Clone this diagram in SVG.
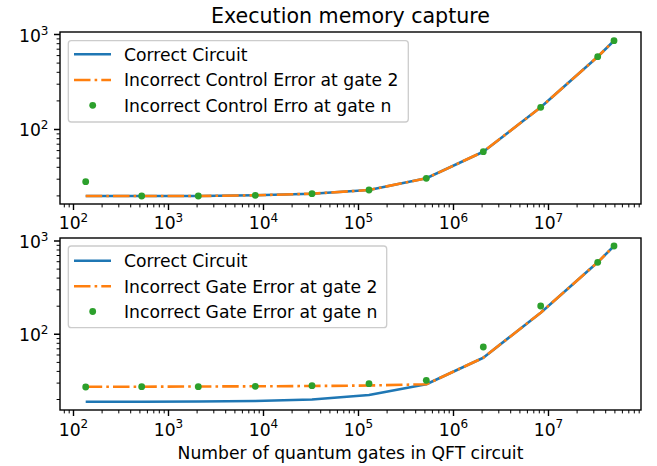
<svg xmlns="http://www.w3.org/2000/svg" width="657" height="466" viewBox="0 0 657 466">
<style>
text{font-family:"DejaVu Sans","Liberation Sans",sans-serif;fill:#000}
.tl{font-size:17.2px}
.sup{font-size:12px}
.lg{font-size:17.2px}
.spine{fill:none;stroke:#000;stroke-width:1.4}
.maj{stroke:#000;stroke-width:1.4}
.min{stroke:#000;stroke-width:1}
.blue{fill:none;stroke:#1f77b4;stroke-width:2.6;stroke-linejoin:round}
.orange{fill:none;stroke:#ff7f0e;stroke-width:2.6;stroke-dasharray:16.5 4.1 2.6 4.1;stroke-linejoin:round}
.dot{fill:#2ca02c}
.leg{fill:#fff;fill-opacity:0.8;stroke:#cccccc;stroke-width:1.3}
</style>
<defs>
<g id="xmin">
<path class="min" d="M64.3 0v3.4M69.2 0v3.4M102.1 0v3.4M118.8 0v3.4M130.7 0v3.4M139.9 0v3.4M147.4 0v3.4M153.8 0v3.4M159.3 0v3.4M164.2 0v3.4M197.1 0v3.4M213.8 0v3.4M225.7 0v3.4M234.9 0v3.4M242.4 0v3.4M248.8 0v3.4M254.3 0v3.4M259.2 0v3.4M292.1 0v3.4M308.8 0v3.4M320.7 0v3.4M329.9 0v3.4M337.4 0v3.4M343.8 0v3.4M349.3 0v3.4M354.2 0v3.4M387.1 0v3.4M403.8 0v3.4M415.7 0v3.4M424.9 0v3.4M432.4 0v3.4M438.8 0v3.4M444.3 0v3.4M449.2 0v3.4M482.1 0v3.4M498.8 0v3.4M510.7 0v3.4M519.9 0v3.4M527.4 0v3.4M533.8 0v3.4M539.3 0v3.4M544.2 0v3.4M577.1 0v3.4M593.8 0v3.4M605.7 0v3.4M614.9 0v3.4M622.4 0v3.4M628.8 0v3.4M634.3 0v3.4M639.2 0v3.4"/>
<path class="maj" d="M73.5 0v6M168.5 0v6M263.5 0v6M358.5 0v6M453.5 0v6M548.5 0v6"/>
</g>
<g id="xlab">
<text class="tl" x="73.5" y="0" text-anchor="middle">10<tspan class="sup" dy="-7.3">2</tspan></text>
<text class="tl" x="168.5" y="0" text-anchor="middle">10<tspan class="sup" dy="-7.3">3</tspan></text>
<text class="tl" x="263.5" y="0" text-anchor="middle">10<tspan class="sup" dy="-7.3">4</tspan></text>
<text class="tl" x="358.5" y="0" text-anchor="middle">10<tspan class="sup" dy="-7.3">5</tspan></text>
<text class="tl" x="453.5" y="0" text-anchor="middle">10<tspan class="sup" dy="-7.3">6</tspan></text>
<text class="tl" x="548.5" y="0" text-anchor="middle">10<tspan class="sup" dy="-7.3">7</tspan></text>
</g>
</defs>

<text id="title" x="350.5" y="22.7" text-anchor="middle" style="font-size:20.6px">Execution memory capture</text>

<g id="axes-top">
<rect class="spine" x="60" y="32" width="581" height="172" fill="#fff"/>
<g id="top-series">
<polyline class="blue" points="85.7,196 141.7,196 198.3,196 255.3,195.3 312,193.7 369,190 426.3,178.3 483.3,151.7 540.7,107.3 597.7,56.7 614,40.7"/>
<polyline class="orange" points="85.7,196 141.7,196 198.3,196 255.3,195.3 312,193.7 369,190 426.3,178.3 483.3,151.7 540.7,107.3 597.7,56.7 614,40.7"/>
<g class="dot">
<circle cx="85.7" cy="181.7" r="3.4"/><circle cx="141.7" cy="196" r="3.4"/><circle cx="198.3" cy="196" r="3.4"/><circle cx="255.3" cy="195.3" r="3.4"/><circle cx="312" cy="193.7" r="3.4"/><circle cx="369" cy="190" r="3.4"/><circle cx="426.3" cy="178.3" r="3.4"/><circle cx="483.3" cy="151.7" r="3.4"/><circle cx="540.7" cy="107.3" r="3.4"/><circle cx="597.7" cy="56.7" r="3.4"/><circle cx="614" cy="40.7" r="3.4"/>
</g>
</g>
<use href="#xmin" y="204"/>
<use href="#xlab" y="229.3"/>
<path class="maj" d="M54 34.5h6M54 129.5h6"/>
<path class="min" d="M56.6 195.9h3.4M56.6 179.2h3.4M56.6 167.3h3.4M56.6 158.1h3.4M56.6 150.6h3.4M56.6 144.2h3.4M56.6 138.7h3.4M56.6 133.9h3.4M56.6 100.9h3.4M56.6 84.2h3.4M56.6 72.3h3.4M56.6 63.1h3.4M56.6 55.6h3.4M56.6 49.2h3.4M56.6 43.7h3.4M56.6 38.9h3.4"/>
<text class="tl" x="48.5" y="41.8" text-anchor="end">10<tspan class="sup" dy="-7.3">3</tspan></text>
<text class="tl" x="48.5" y="136" text-anchor="end">10<tspan class="sup" dy="-7.3">2</tspan></text>
<g id="legend-top">
<rect class="leg" x="68.3" y="40.7" width="340" height="81.3" rx="3"/>
<line x1="74" y1="54.3" x2="111" y2="54.3" stroke="#1f77b4" stroke-width="2.6"/>
<line x1="74" y1="80" x2="111" y2="80" class="orange"/>
<circle class="dot" cx="92.7" cy="105.3" r="3.4"/>
<text class="lg" x="124" y="60.7">Correct Circuit</text>
<text class="lg" x="124" y="86.3">Incorrect Control Error at gate 2</text>
<text class="lg" x="124" y="111.8">Incorrect Control Erro at gate n</text>
</g>
</g>

<g id="axes-bottom">
<rect class="spine" x="60" y="238" width="581" height="172" fill="#fff"/>
<g id="bottom-series">
<polyline class="blue" points="85.7,401.7 141.7,401.7 198.3,401.5 255.3,401 312,399.5 369,395 426.3,384.3 483.3,357.7 540.7,312.7 597.7,262.3 614,246"/>
<polyline class="orange" points="85.7,386.7 141.7,386.7 198.3,386.5 255.3,386.3 312,386 369,385.5 426.3,384.3 483.3,357.7 540.7,312.7 597.7,262.3 614,246"/>
<g class="dot">
<circle cx="85.7" cy="387" r="3.4"/><circle cx="141.7" cy="386.7" r="3.4"/><circle cx="198.3" cy="386.7" r="3.4"/><circle cx="255.3" cy="386.3" r="3.4"/><circle cx="312" cy="385.7" r="3.4"/><circle cx="369" cy="383.7" r="3.4"/><circle cx="426.3" cy="380.3" r="3.4"/><circle cx="483.3" cy="347" r="3.4"/><circle cx="540.7" cy="306" r="3.4"/><circle cx="597.7" cy="262.3" r="3.4"/><circle cx="614" cy="246" r="3.4"/>
</g>
</g>
<use href="#xmin" y="410"/>
<use href="#xlab" y="435.5"/>
<path class="maj" d="M54 241h6M54 334.3h6"/>
<path class="min" d="M56.6 399.5h3.4M56.6 383.1h3.4M56.6 371.4h3.4M56.6 362.4h3.4M56.6 355h3.4M56.6 348.8h3.4M56.6 343.3h3.4M56.6 338.6h3.4M56.6 306.2h3.4M56.6 289.8h3.4M56.6 278.1h3.4M56.6 269.1h3.4M56.6 261.7h3.4M56.6 255.5h3.4M56.6 250h3.4M56.6 245.3h3.4"/>
<text class="tl" x="48.5" y="248" text-anchor="end">10<tspan class="sup" dy="-7.3">3</tspan></text>
<text class="tl" x="48.5" y="341" text-anchor="end">10<tspan class="sup" dy="-7.3">2</tspan></text>
<g id="legend-bottom">
<rect class="leg" x="68.3" y="246" width="318.4" height="81.7" rx="3"/>
<line x1="74" y1="260.7" x2="111" y2="260.7" stroke="#1f77b4" stroke-width="2.6"/>
<line x1="74" y1="286.2" x2="111" y2="286.2" class="orange"/>
<circle class="dot" cx="92.7" cy="311.5" r="3.4"/>
<text class="lg" x="124" y="267.2">Correct Circuit</text>
<text class="lg" x="124" y="292.7">Incorrect Gate Error at gate 2</text>
<text class="lg" x="124" y="318.2">Incorrect Gate Error at gate n</text>
</g>
</g>

<text id="xlabel" x="350.5" y="459.2" text-anchor="middle" class="tl">Number of quantum gates in QFT circuit</text>
</svg>
